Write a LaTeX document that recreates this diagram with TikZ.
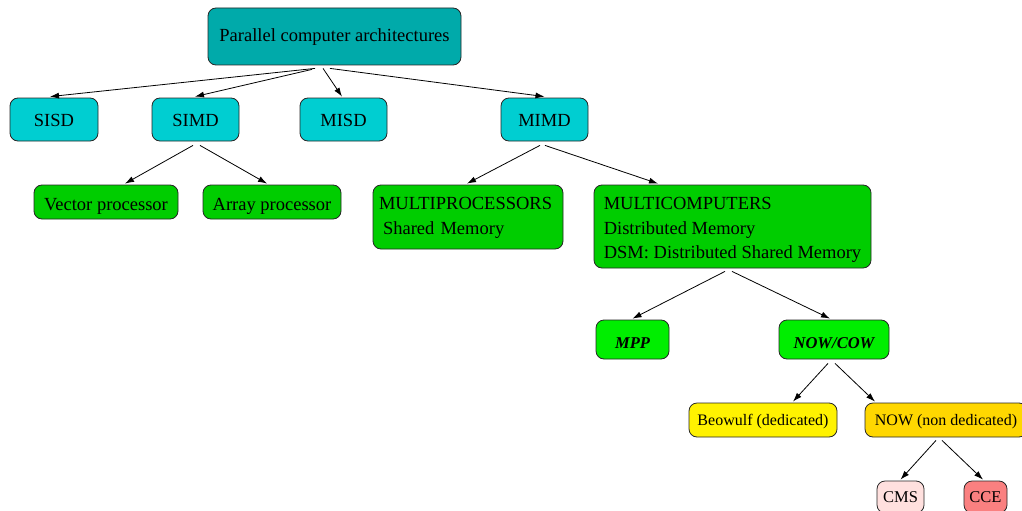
\documentclass[tikz,border=0pt]{standalone}
\usepackage{fontspec}
\setmainfont{Liberation Serif}
\usetikzlibrary{arrows.meta}
\definecolor{rootteal}{RGB}{0,170,170}
\definecolor{classcyan}{RGB}{0,206,209}
\definecolor{midgreen}{RGB}{0,205,0}
\definecolor{brightgreen}{RGB}{0,238,0}
\definecolor{gold}{RGB}{255,215,0}
\definecolor{rosepink}{RGB}{255,224,222}
\definecolor{coral}{RGB}{250,128,128}
\tikzset{
  box/.style={draw=black!85, line width=0.8pt, rounded corners=8pt, inner sep=0pt,
    font=\fontsize{18.5}{24.3}\selectfont},
  oneline/.style={box, text height=14pt, text depth=0pt},
  keyword/.style={oneline, font=\fontsize{16.5}{20}\selectfont\bfseries\itshape, text height=17pt},
  small/.style={oneline, font=\fontsize{16}{20}\selectfont, text height=11pt},
  edge/.style={line width=0.8pt, -{Latex[length=9pt,width=6pt]}},
}
\newcommand{\firstline}[1]{\rule{0pt}{#1}}
\newcommand{\lastline}[1]{\rule[-#1]{0pt}{#1}}
\begin{document}
\begin{tikzpicture}[x=1pt,y=-1pt]
\useasboundingbox (0,0) rectangle (1022,511);
\clip (0,0) rectangle (1022,511);
% root
\node[oneline, fill=rootteal, minimum width=253pt, minimum height=57pt, text height=11pt] (root) at (334.5,36.5) {Parallel computer architectures};
% Flynn classes
\node[oneline, fill=classcyan, minimum width=88pt, minimum height=43pt] (sisd) at (54,119.5) {SISD};
\node[oneline, fill=classcyan, minimum width=87pt, minimum height=43pt] (simd) at (195.5,119.5) {SIMD};
\node[oneline, fill=classcyan, minimum width=87pt, minimum height=43pt] (misd) at (343.5,119.5) {MISD};
\node[oneline, fill=classcyan, minimum width=87pt, minimum height=43pt] (mimd) at (544.5,119.5) {MIMD};
% SIMD and MIMD subclasses
\node[oneline, fill=midgreen, minimum width=144pt, minimum height=34pt, text height=16pt] (vec) at (106,202) {Vector processor};
\node[oneline, fill=midgreen, minimum width=138pt, minimum height=34pt, text height=16pt] (arr) at (272,202) {Array processor};
\node[box, fill=midgreen, minimum width=190pt, minimum height=64pt, text width=178pt, align=left] (mproc) at (468,217)
  {\firstline{15pt}MULTIPROCESSORS\\\hspace*{4pt}Shared Memory\lastline{5pt}};
\node[box, fill=midgreen, minimum width=277pt, minimum height=83pt, align=left] (mcomp) at (732.5,226.5)
  {\firstline{19pt}MULTICOMPUTERS\\Distributed Memory\\DSM: Distributed Shared Memory\lastline{4pt}};
% multicomputer kinds
\node[keyword, fill=brightgreen, minimum width=73pt, minimum height=39pt] (mpp) at (632.5,339.5) {MPP};
\node[keyword, fill=brightgreen, minimum width=110pt, minimum height=39pt] (nowcow) at (834,339.5) {NOW/COW};
% clusters
\node[small, fill=yellow, minimum width=148pt, minimum height=34pt] (beo) at (763,420) {Beowulf (dedicated)};
\node[small, fill=gold, minimum width=162pt, minimum height=34pt] (now) at (946,420) {NOW (non dedicated)};
\node[small, fill=rosepink, minimum width=47pt, minimum height=32pt, font=\fontsize{16.5}{20}\selectfont] (cms) at (900.5,497) {CMS};
\node[small, fill=coral, minimum width=43pt, minimum height=32pt, font=\fontsize{16.5}{20}\selectfont] (cce) at (985.5,497) {CCE};
% connectors
\draw[edge] ([xshift=-19.5pt,yshift=-3pt]root.south) -- ([xshift=-4pt,yshift=1pt]sisd.north);
\draw[edge] ([xshift=-22.5pt,yshift=-4pt]root.south) -- ([xshift=-0.5pt,yshift=1pt]simd.north);
\draw[edge] ([xshift=-11.5pt,yshift=-3pt]root.south) -- ([xshift=-1.5pt,yshift=1pt]misd.north);
\draw[edge] ([xshift=-4.5pt,yshift=-3pt]root.south) -- ([xshift=0pt,yshift=1pt]mimd.north);
\draw[edge] ([xshift=-2.5pt,yshift=-4pt]simd.south) -- ([xshift=19pt,yshift=1pt]vec.north);
\draw[edge] ([xshift=4.5pt,yshift=-4pt]simd.south) -- ([xshift=-5pt,yshift=1pt]arr.north);
\draw[edge] ([xshift=-4.5pt,yshift=-4pt]mimd.south) -- ([xshift=-1pt,yshift=1pt]mproc.north);
\draw[edge] ([xshift=0.5pt,yshift=-4pt]mimd.south) -- ([xshift=-74.5pt,yshift=1pt]mcomp.north);
\draw[edge] ([xshift=-7.5pt,yshift=-3pt]mcomp.south) -- ([xshift=0pt,yshift=1pt]mpp.north);
\draw[edge] ([xshift=-0.5pt,yshift=-3pt]mcomp.south) -- ([xshift=-4pt,yshift=1pt]nowcow.north);
\draw[edge] ([xshift=-6pt,yshift=-4pt]nowcow.south) -- ([xshift=30pt,yshift=1pt]beo.north);
\draw[edge] ([xshift=1pt,yshift=-4pt]nowcow.south) -- ([xshift=-71pt,yshift=1pt]now.north);
\draw[edge] ([xshift=-10pt,yshift=-3pt]now.south) -- ([xshift=0pt,yshift=1pt]cms.north);
\draw[edge] ([xshift=-4pt,yshift=-3pt]now.south) -- ([xshift=-2.5pt,yshift=1pt]cce.north);
\end{tikzpicture}
\end{document}
